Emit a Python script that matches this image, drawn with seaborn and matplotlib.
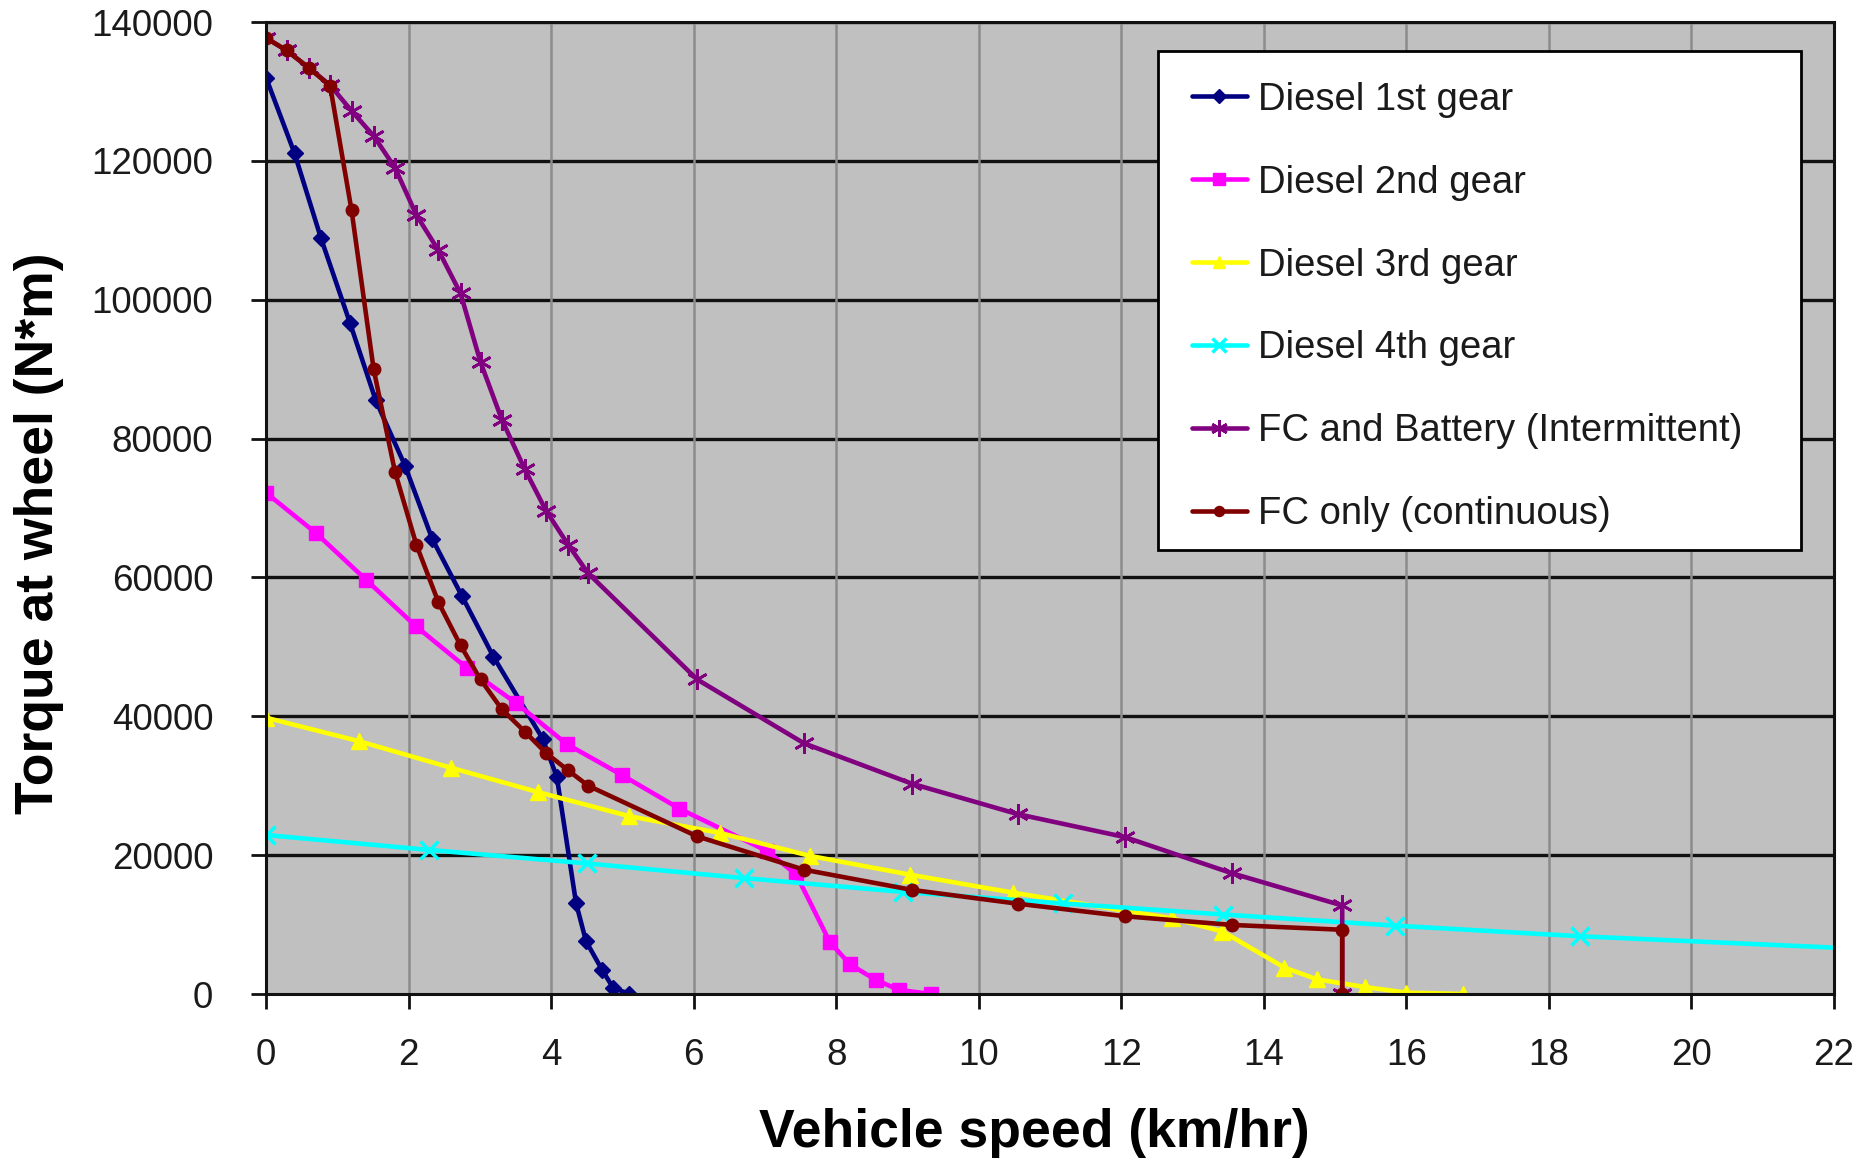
import matplotlib
matplotlib.use("Agg")
import matplotlib.pyplot as plt
from matplotlib.patches import Rectangle
import seaborn as sns
import pandas as pd

# ---------------- data ----------------
d1_x = [0, 0.4, 0.77, 1.18, 1.54, 1.95, 2.33, 2.75, 3.19, 3.88, 4.08, 4.35, 4.49, 4.72, 4.87, 5.1]
d1_y = [132000, 121100, 108900, 96600, 85500, 76100, 65600, 57300, 48600, 36800, 31300, 13100, 7600, 3400, 900, 0]

d2_x = [0, 0.7, 1.4, 2.1, 2.82, 3.51, 4.22, 5.0, 5.8, 7.03, 7.44, 7.91, 8.19, 8.56, 8.88, 9.33]
d2_y = [72200, 66400, 59700, 53000, 46950, 41900, 36000, 31500, 26700, 20600, 17200, 7500, 4300, 2000, 600, 0]

d3_x = [0, 1.31, 2.59, 3.81, 5.1, 6.37, 7.63, 9.03, 10.48, 12.71, 13.42, 14.29, 14.75, 15.42, 16.0, 16.8]
d3_y = [39800, 36400, 32600, 29100, 25600, 23200, 19900, 17200, 14600, 10900, 9000, 3800, 2100, 1000, 200, 0]

d4_x = [0, 2.29, 4.51, 6.7, 8.94, 11.18, 13.43, 15.84, 18.43, 24.0]
d4_y = [22900, 20750, 18800, 16700, 14700, 13050, 11450, 9850, 8320, 5760]

fc_x = [0, 0.29, 0.6, 0.9, 1.2, 1.51, 1.81, 2.11, 2.42, 2.73, 3.01, 3.31, 3.63, 3.93,
        4.24, 4.52, 6.05, 7.55, 9.06, 10.55, 12.05, 13.55, 15.1, 15.1]
fcb_y = [137700, 135900, 133400, 130900, 127200, 123600, 119000, 112200, 107100, 100900,
         91000, 82700, 75600, 69600, 64700, 60600, 45300, 36100, 30300, 25900, 22600,
         17400, 12750, 0]
fco_y = [137700, 135900, 133400, 130800, 112900, 90000, 75200, 64700, 56400, 50200,
         45300, 41000, 37800, 34700, 32200, 30000, 22700, 17900, 15000, 13000, 11200,
         9950, 9250, 0]

series_names = ["Diesel 1st gear", "Diesel 2nd gear", "Diesel 3rd gear",
                "Diesel 4th gear", "FC and Battery (Intermittent)", "FC only (continuous)"]
x_ticks = [0, 2, 4, 6, 8, 10, 12, 14, 16, 18, 20, 22]
y_ticks = [0, 20000, 40000, 60000, 80000, 100000, 120000, 140000]

# ---------------- style ----------------
sns.set_theme(style="white")
plt.rcParams['font.family'] = ['Liberation Sans', 'DejaVu Sans']

W, H = 1868, 1158
fig = plt.figure(figsize=(W / 100, H / 100), dpi=100)
L, R, T, B = 266, 1834, 22, 994
ax = fig.add_axes([L / W, 1 - B / H, (R - L) / W, (B - T) / H])
ax.set_facecolor("#C0C0C0")

colors = ["#000080", "#FF00FF", "#FFFF00", "#00FFFF", "#800080", "#800000"]
markers = ["D", "s", "^", "x", (6, 2, 0), "o"]
msizes = [8.5, 10.5, 11.5, 13, 15, 9]
mews = [1, 1, 1, 2.5, 2.0, 1]
xs = [d1_x, d2_x, d3_x, d4_x, fc_x, fc_x]
ys = [d1_y, d2_y, d3_y, d4_y, fcb_y, fco_y]

for name, x, y, c, m, ms, mew in zip(series_names, xs, ys, colors, markers, msizes, mews):
    df = pd.DataFrame({"speed": x, "torque": y})
    sns.lineplot(data=df, x="speed", y="torque", ax=ax, sort=False, estimator=None,
                 color=c, linewidth=3.3, marker=m, markersize=ms,
                 markeredgecolor=c, markerfacecolor=c, markeredgewidth=mew,
                 label=name, clip_on=True, zorder=3)

ax.set_xlim(0, 22)
ax.set_ylim(0, 140000)
ax.set_xticks(x_ticks)
ax.set_yticks(y_ticks)
ax.set_xticklabels([str(t) for t in x_ticks])
ax.set_yticklabels([str(t) for t in y_ticks])

# grid: horizontal black, vertical grey
for yv in y_ticks[1:]:
    ax.axhline(yv, color="#111111", linewidth=2.4, zorder=1)
for xv in x_ticks[1:-1]:
    ax.axvline(xv, color="#8C8C8C", linewidth=1.8, zorder=1)

for s in ax.spines.values():
    s.set_visible(True)
    s.set_color("#111111")
    s.set_linewidth(2.2)
    s.set_zorder(4)

ax.tick_params(axis="both", which="major", direction="out", length=11, width=2,
               color="#111111", labelsize=26.5, labelcolor="#1a1a1a")
ax.tick_params(axis="x", pad=21)
ax.tick_params(axis="y", pad=27)
ax.xaxis.set_ticks_position("bottom")
ax.yaxis.set_ticks_position("left")

ax.set_xlabel("")
ax.set_ylabel("")
fig.text(1034 / W, 1 - 1133 / H, "Vehicle speed (km/hr)", ha="center", va="center",
         fontsize=38.5, fontweight="bold", color="black")
fig.text(39 / W, 1 - 533 / H, "Torque at wheel (N*m)", ha="center", va="center",
         rotation=90, fontsize=38.5, fontweight="bold", color="black")

# legend box (white, black edge) drawn as a patch, entries placed inside
box = Rectangle((1158 / W, 1 - 550 / H), (1801 - 1158) / W, (550 - 51) / H,
                transform=fig.transFigure, facecolor="white", edgecolor="black",
                linewidth=2, zorder=9, clip_on=False)
ax.add_patch(box)

leg = ax.legend(loc="upper left",
                bbox_to_anchor=(1161 / W, 1 - 550 / H, (1801 - 1161) / W, (550 - 51) / H),
                bbox_transform=fig.transFigure, mode="expand",
                fontsize=27.5, frameon=False, borderpad=0.8,
                labelspacing=1.23, handlelength=1.45, handletextpad=0.3,
                borderaxespad=0, markerscale=0.8)
leg.set_zorder(10)
for t in leg.get_texts():
    t.set_color("#1a1a1a")

fig.savefig("out.png", dpi=100, facecolor="white")
